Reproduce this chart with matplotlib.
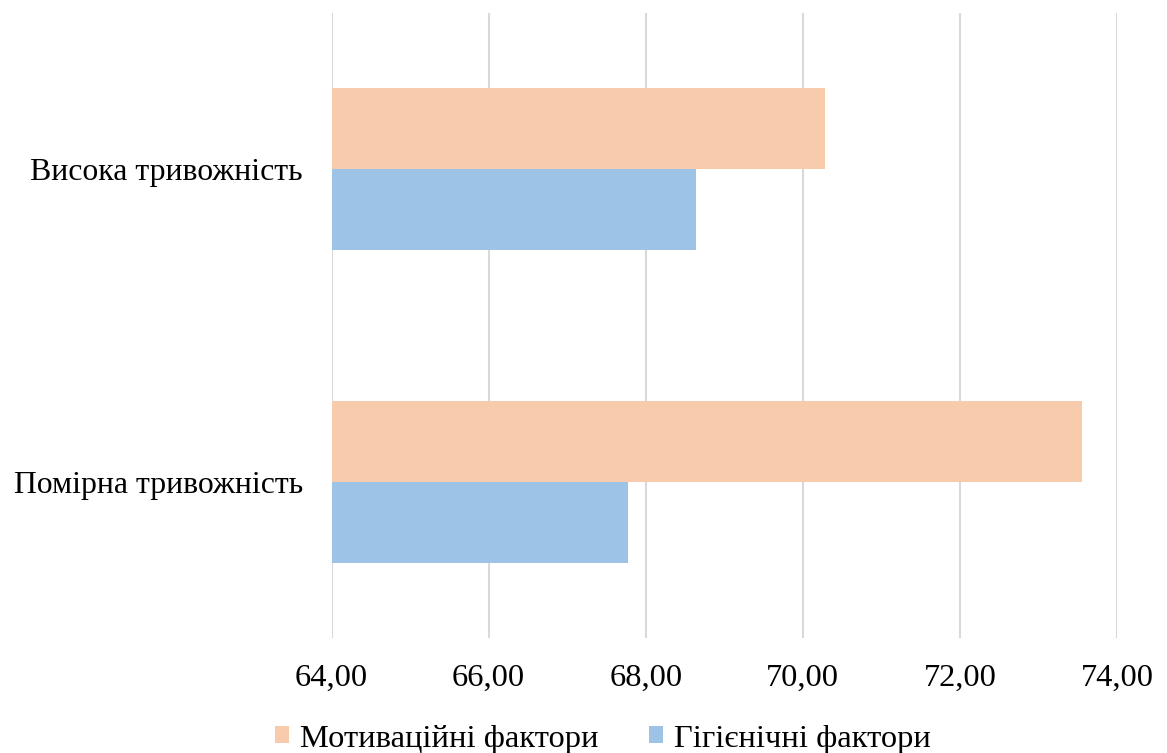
import matplotlib
matplotlib.use("Agg")
import matplotlib.pyplot as plt
from matplotlib.ticker import FuncFormatter, MultipleLocator
import numpy as np

categories = ["Помірна тривожність", "Висока тривожність"]
series_names = ["Мотиваційні фактори", "Гігієнічні фактори"]
motivation = [73.56, 70.28]
hygiene = [67.77, 68.64]
colors = ["#F8CBAD", "#9DC3E6"]

plt.rcParams["font.family"] = ["Liberation Serif", "DejaVu Serif"]
FS = 23.4

fig = plt.figure(figsize=(11.67, 7.53), dpi=100)
ax = fig.add_axes([0.2841, 0.1522, 0.9572 - 0.2841, 0.9833 - 0.1522])

y = np.arange(len(categories))
h = 0.26
ax.barh(y + h / 2, motivation, height=h, color=colors[0], label=series_names[0], zorder=3)
ax.barh(y - h / 2, hygiene, height=h, color=colors[1], label=series_names[1], zorder=3)

ax.set_xlim(64, 74)
ax.set_ylim(-0.5, 1.5)
ax.xaxis.set_major_locator(MultipleLocator(2))
ax.xaxis.set_major_formatter(FuncFormatter(lambda v, p: f"{v:.2f}".replace(".", ",")))
ax.set_yticks(y)
ax.set_yticklabels(categories)
ax.grid(axis="x", color="#D9D9D9", linewidth=1.5, zorder=0)
ax.tick_params(axis="x", length=0, pad=18, labelsize=FS)
ax.tick_params(axis="y", length=0, pad=20.5, labelsize=22.9)
for s in ax.spines.values():
    s.set_visible(False)

fig.legend(loc="center", bbox_to_anchor=(603 / 1167, 1 - 739 / 753), ncol=2,
           frameon=False, fontsize=FS, handlelength=0.43, handleheight=0.43,
           handletextpad=0.35, columnspacing=1.54, borderaxespad=0, borderpad=0)

fig.savefig("out.png", dpi=100, facecolor="white")
